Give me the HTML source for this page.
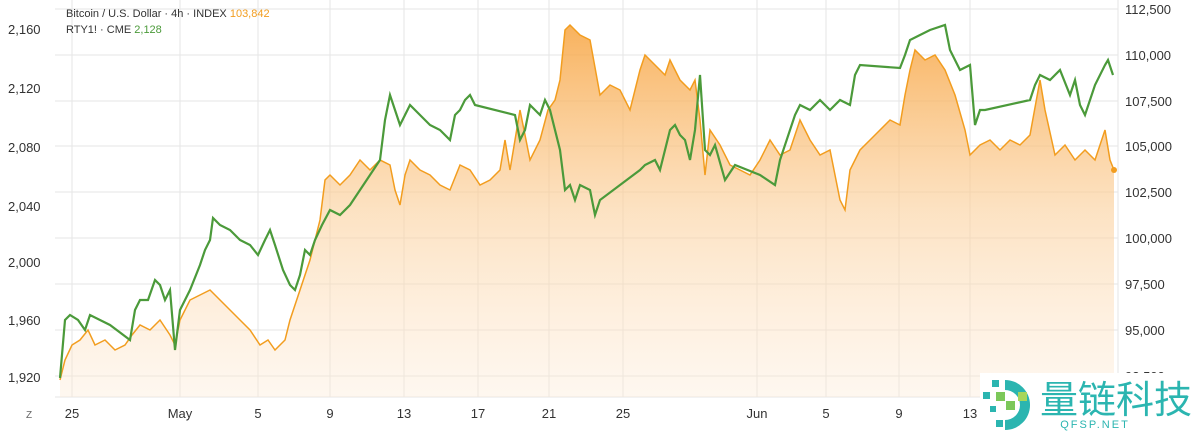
<!DOCTYPE html>
<html><head><meta charset="utf-8"><style>
body{margin:0;background:#fff;}
svg{display:block;font-family:"Liberation Sans","DejaVu Sans",sans-serif;}
</style></head><body>
<svg width="1200" height="433" viewBox="0 0 1200 433">
<defs>
<linearGradient id="g" x1="0" y1="0" x2="0" y2="1">
<stop offset="0" stop-color="#f7a440" stop-opacity="0.85"/>
<stop offset="0.5" stop-color="#fbcf9a" stop-opacity="0.6"/>
<stop offset="1" stop-color="#fde9d3" stop-opacity="0.35"/>
</linearGradient>
</defs>
<g stroke="#e6e6e6" stroke-width="1">
<line x1="55" y1="9" x2="1118" y2="9"/><line x1="55" y1="55" x2="1118" y2="55"/><line x1="55" y1="101" x2="1118" y2="101"/><line x1="55" y1="146" x2="1118" y2="146"/><line x1="55" y1="192" x2="1118" y2="192"/><line x1="55" y1="238" x2="1118" y2="238"/><line x1="55" y1="284" x2="1118" y2="284"/><line x1="55" y1="330" x2="1118" y2="330"/><line x1="55" y1="376" x2="1118" y2="376"/>
<line x1="72" y1="0" x2="72" y2="397"/><line x1="180" y1="0" x2="180" y2="397"/><line x1="258" y1="0" x2="258" y2="397"/><line x1="330" y1="0" x2="330" y2="397"/><line x1="404" y1="0" x2="404" y2="397"/><line x1="478" y1="0" x2="478" y2="397"/><line x1="549" y1="0" x2="549" y2="397"/><line x1="623" y1="0" x2="623" y2="397"/><line x1="757" y1="0" x2="757" y2="397"/><line x1="826" y1="0" x2="826" y2="397"/><line x1="899" y1="0" x2="899" y2="397"/><line x1="970" y1="0" x2="970" y2="397"/>
<line x1="55" y1="397" x2="1118" y2="397"/><line x1="1118" y1="0" x2="1118" y2="397"/>
</g>
<polygon fill="url(#g)" points="60,397 60,380 65,360 72,345 80,340 88,330 95,345 105,340 115,350 125,345 132,335 140,325 150,330 160,320 170,335 175,345 180,320 190,300 200,295 210,290 220,300 230,310 240,320 250,330 260,345 268,340 275,350 285,340 290,320 300,290 310,260 320,220 325,180 330,175 340,185 350,175 360,160 370,170 380,160 390,165 395,190 400,205 405,175 410,160 420,170 430,175 440,185 450,190 460,165 470,170 480,185 490,180 500,170 505,140 510,170 520,110 530,160 540,140 548,110 555,100 560,80 565,30 570,25 580,35 590,40 600,95 610,85 620,90 630,110 640,70 645,55 655,65 665,75 670,60 680,80 690,90 695,80 700,120 705,175 710,130 720,145 730,165 740,170 750,175 760,160 770,140 780,155 790,150 800,120 810,140 820,155 830,150 840,200 845,210 850,170 860,150 870,140 880,130 890,120 900,125 905,95 910,70 915,50 925,60 935,55 945,70 955,95 965,130 970,155 980,145 990,140 1000,150 1010,140 1020,145 1030,135 1040,80 1045,110 1055,155 1065,145 1075,160 1085,150 1095,160 1105,130 1110,160 1114,170 1114,397"/>
<polyline fill="none" stroke="#f29d1f" stroke-width="1.5" points="60,380 65,360 72,345 80,340 88,330 95,345 105,340 115,350 125,345 132,335 140,325 150,330 160,320 170,335 175,345 180,320 190,300 200,295 210,290 220,300 230,310 240,320 250,330 260,345 268,340 275,350 285,340 290,320 300,290 310,260 320,220 325,180 330,175 340,185 350,175 360,160 370,170 380,160 390,165 395,190 400,205 405,175 410,160 420,170 430,175 440,185 450,190 460,165 470,170 480,185 490,180 500,170 505,140 510,170 520,110 530,160 540,140 548,110 555,100 560,80 565,30 570,25 580,35 590,40 600,95 610,85 620,90 630,110 640,70 645,55 655,65 665,75 670,60 680,80 690,90 695,80 700,120 705,175 710,130 720,145 730,165 740,170 750,175 760,160 770,140 780,155 790,150 800,120 810,140 820,155 830,150 840,200 845,210 850,170 860,150 870,140 880,130 890,120 900,125 905,95 910,70 915,50 925,60 935,55 945,70 955,95 965,130 970,155 980,145 990,140 1000,150 1010,140 1020,145 1030,135 1040,80 1045,110 1055,155 1065,145 1075,160 1085,150 1095,160 1105,130 1110,160 1114,170"/>
<circle cx="1114" cy="170" r="3" fill="#f29d1f"/>
<polyline fill="none" stroke="#4b9a3a" stroke-width="2.2" points="60,378 65,320 70,315 78,320 85,330 90,315 110,325 130,340 135,310 140,300 148,300 155,280 160,285 165,300 170,290 175,350 180,310 185,300 190,290 200,265 205,250 210,240 213,218 220,225 230,230 240,240 250,245 258,255 265,240 270,230 275,245 283,270 290,285 295,290 300,275 305,250 310,255 315,240 322,225 330,210 340,215 350,205 360,190 370,175 380,160 385,120 390,95 395,110 400,125 405,115 410,105 420,115 430,125 440,130 450,140 455,115 460,110 465,100 470,95 475,105 515,115 520,140 525,130 530,105 540,115 545,100 550,110 555,130 560,150 565,190 570,185 575,200 580,185 590,190 595,215 600,200 640,170 645,165 655,160 660,170 665,150 670,130 675,125 680,135 685,140 690,160 695,130 700,75 705,150 710,155 715,145 725,180 735,165 760,175 775,185 780,160 795,115 800,105 810,110 820,100 830,110 840,100 850,105 855,75 860,65 900,68 905,55 910,40 920,35 930,30 945,25 950,50 960,70 970,65 975,125 980,110 985,110 1030,100 1035,85 1040,75 1050,80 1060,70 1070,95 1075,80 1080,105 1085,115 1095,85 1105,65 1108,60 1113,75"/>
<g font-size="13" fill="#333">
<text x="8" y="34">2,160</text><text x="8" y="93">2,120</text><text x="8" y="152">2,080</text><text x="8" y="211">2,040</text><text x="8" y="267">2,000</text><text x="8" y="325">1,960</text><text x="8" y="382">1,920</text>
<text x="1125" y="14">112,500</text><text x="1125" y="60">110,000</text><text x="1125" y="106">107,500</text><text x="1125" y="151">105,000</text><text x="1125" y="197">102,500</text><text x="1125" y="243">100,000</text><text x="1125" y="289">97,500</text><text x="1125" y="335">95,000</text><text x="1125" y="381">92,500</text>
<g text-anchor="middle"><text x="72" y="418">25</text><text x="180" y="418">May</text><text x="258" y="418">5</text><text x="330" y="418">9</text><text x="404" y="418">13</text><text x="478" y="418">17</text><text x="549" y="418">21</text><text x="623" y="418">25</text><text x="757" y="418">Jun</text><text x="826" y="418">5</text><text x="899" y="418">9</text><text x="970" y="418">13</text></g>
</g>
<text x="26" y="418" font-size="10" fill="#666">Z</text>
<g font-size="11" fill="#333">
<text x="66" y="17">Bitcoin / U.S. Dollar · 4h · INDEX <tspan fill="#f29d1f">103,842</tspan></text>
<text x="66" y="33">RTY1! · CME <tspan fill="#4b9a3a">2,128</tspan></text>
</g>
<rect x="980" y="373" width="220" height="60" fill="#fff"/>
<g>
<path d="M1005,380 A25,25 0 1 1 1005,430 L1005,420 A15,15 0 1 0 1005,390 Z" fill="#2bb5b0"/>
<rect x="992" y="380" width="7" height="7" fill="#2bb5b0"/><rect x="983" y="392" width="7" height="7" fill="#2bb5b0"/><rect x="996" y="392" width="9" height="9" fill="#7cc85a"/><rect x="1006" y="401" width="9" height="9" fill="#7cc85a"/><rect x="1018" y="392" width="9" height="9" fill="#a7d65a"/><rect x="990" y="406" width="6" height="6" fill="#2bb5b0"/><rect x="996" y="420" width="7" height="7" fill="#2bb5b0"/>
</g>
<text x="1040" y="413" font-size="38" fill="#2bb5b0" font-family="'Noto Sans CJK SC',sans-serif">量链科技</text>
<text x="1095" y="428" font-size="11" fill="#2bb5b0" text-anchor="middle" letter-spacing="2">QFSP.NET</text>
</svg>
</body></html>
